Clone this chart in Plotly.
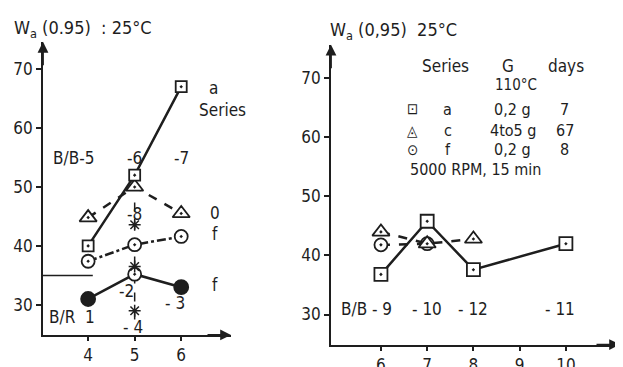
import plotly.graph_objects as go

# ---------------- data ----------------
# left panel (x = %)
left_x = [4, 5, 6]
left_a = [40, 52, 67]            # squares, solid
left_tri = [44.8, 50, 45.5]      # triangles, dashed
left_f_open = [37.4, 40.2, 41.6] # open circles, dash-dot
left_f_fill = [31, 35.2, 33]     # filled circles, solid
left_star_x = [5, 5, 5]
left_star = [43.6, 36.5, 29]     # crosses
left_xticks = [4, 5, 6]
left_yticks = [30, 40, 50, 60, 70]

# right panel
right_a_x = [6, 7, 8, 10]
right_a = [36.8, 45.8, 37.6, 42]
right_c_x = [6, 7, 8]
right_c = [44, 42, 42.8]
right_f_x = [6, 7]
right_f = [41.8, 42]
right_xticks = [6, 7, 8, 9, 10]
right_yticks = [30, 40, 50, 60, 70]

INK = "#1e1e1e"
FONT = "DejaVu Sans Condensed, DejaVu Sans, sans-serif"
W, H = 623, 367

fig = go.Figure()

def mk(symbol, fill, size=11, lw=1.8):
    return dict(symbol=symbol, size=size, color=fill, opacity=1, line=dict(color=INK, width=lw))

# ---- left traces ----
fig.add_trace(go.Scatter(x=left_x, y=left_tri, mode="lines+markers", xaxis="x", yaxis="y",
                         line=dict(color=INK, width=2.5, dash="dash"),
                         marker=mk("triangle-up-dot", "white", 15)))
fig.add_trace(go.Scatter(x=left_x, y=left_a, mode="lines+markers", xaxis="x", yaxis="y",
                         line=dict(color=INK, width=2.5),
                         marker=mk("square-dot", "white", 11)))
fig.add_trace(go.Scatter(x=left_x, y=left_f_open, mode="lines+markers", xaxis="x", yaxis="y",
                         line=dict(color=INK, width=2.5, dash="dashdot"),
                         marker=mk("circle-dot", "white", 13)))
fig.add_trace(go.Scatter(x=left_x, y=left_f_fill, mode="lines+markers", xaxis="x", yaxis="y",
                         line=dict(color=INK, width=2.5),
                         marker=dict(symbol=["circle", "circle-dot", "circle"], size=[14, 13, 14],
                                     opacity=1, color=[INK, "white", INK],
                                     line=dict(color=INK, width=1.8))))
fig.add_trace(go.Scatter(x=left_star_x, y=left_star, mode="markers", xaxis="x", yaxis="y",
                         marker=dict(symbol="asterisk-open", size=10, color=INK,
                                     line=dict(color=INK, width=1.5))))

# ---- right traces ----
fig.add_trace(go.Scatter(x=right_f_x, y=right_f, mode="lines+markers", xaxis="x2", yaxis="y2",
                         line=dict(color=INK, width=2.5, dash="dash"),
                         marker=mk("circle-dot", "white", 13)))
fig.add_trace(go.Scatter(x=right_c_x, y=right_c, mode="lines+markers", xaxis="x2", yaxis="y2",
                         line=dict(color=INK, width=2.5, dash="dash"),
                         marker=mk("triangle-up-dot", "white", 15)))
fig.add_trace(go.Scatter(x=right_a_x, y=right_a, mode="lines+markers", xaxis="x2", yaxis="y2",
                         line=dict(color=INK, width=2.5),
                         marker=mk("square-dot", "white", 13)))

axis_common = dict(showline=True, linecolor=INK, linewidth=1.8, showgrid=False, zeroline=False,
                   ticks="outside", ticklen=5, tickcolor=INK, tickwidth=1.5,
                   tickfont=dict(family=FONT, size=17, color=INK))

fig.update_layout(
    width=W, height=H, margin=dict(l=0, r=0, t=0, b=0),
    paper_bgcolor="white", plot_bgcolor="white", showlegend=False,
    xaxis=dict(axis_common, domain=[35 / W, 223 / W], range=[3.03, 7.07], anchor="y",
               tickvals=left_xticks, ticklen=4),
    yaxis=dict(axis_common, domain=[(H - 338) / H, (H - 35) / H], range=[24.9, 74.6], anchor="x",
               tickvals=left_yticks),
    xaxis2=dict(axis_common, domain=[323 / W, 612 / W], range=[4.92, 11.17], anchor="y2",
                tickvals=right_xticks, ticklen=4),
    yaxis2=dict(axis_common, domain=[(H - 348) / H, (H - 38) / H], range=[24.9, 75.7], anchor="x2",
                tickvals=right_yticks),
)

# reference lines
fig.add_shape(type="line", xref="x", yref="y", x0=5, x1=5, y0=27.5, y1=48.5,
              line=dict(color=INK, width=1.5, dash="dash"), layer="below")
fig.add_shape(type="line", xref="x", yref="y", x0=3.03, x1=4.1, y0=35, y1=35,
              line=dict(color=INK, width=1.5))

ann = []
def t(x, y, s, xr="x", yr="y", size=17, anchor="center"):
    ann.append(dict(x=x, y=y, xref=xr, yref=yr, text=s, showarrow=False, xanchor=anchor,
                    yanchor="middle", font=dict(family=FONT, size=size, color=INK)))

# axis arrows
for xr, yr, xe, ye, ax, ay in [("x", "y", 3.03, 74.6, 0, 25), ("x", "y", 7.07, 24.9, -25, 0),
                               ("x2", "y2", 4.92, 75.7, 0, 25), ("x2", "y2", 11.17, 24.9, -25, 0)]:
    ann.append(dict(x=xe, y=ye, xref=xr, yref=yr, ax=ax, ay=ay, showarrow=True,
                    arrowhead=2, arrowsize=1.2, arrowwidth=1.8, arrowcolor=INK, text=""))

# titles
ann.append(dict(x=4 / W, y=1 - 22 / H, xref="paper", yref="paper", xanchor="left", yanchor="middle",
                showarrow=False, text="W<sub>a</sub> (0.95)  : 25°C",
                font=dict(family=FONT, size=18, color=INK)))
ann.append(dict(x=320 / W, y=1 - 24 / H, xref="paper", yref="paper", xanchor="left", yanchor="middle",
                showarrow=False, text="W<sub>a</sub> (0,95)  25°C",
                font=dict(family=FONT, size=18, color=INK)))

# left labels
t(2.6, 65, "%")
t(3.68, 54.9, "B/B-5")
t(5, 54.9, "-6")
t(6, 54.9, "-7")
t(6.69, 66.7, "a")
t(6.88, 63.1, "Series")
t(6.73, 45.6, "0")
t(6.73, 42.1, "f")
t(6.73, 33.3, "f")
t(5, 45.4, "-8")
t(4.82, 32.3, "-2")
t(5.87, 30.3, "- 3")
t(4.97, 26.2, "- 4")
t(3.66, 27.9, "B/R  1")
t(6.47, 22.4, "%")

# right labels
t(5.68, 31, "B/B - 9", "x2", "y2")
t(7, 31, "- 10", "x2", "y2")
t(8, 31, "- 12", "x2", "y2")
t(9.87, 31, "- 11", "x2", "y2")
t(10.45, 22.4, "%", "x2", "y2")
t(7.4, 72.1, "Series", "x2", "y2")
t(8.74, 72.1, "G", "x2", "y2")
t(10.0, 72.1, "days", "x2", "y2")
t(8.92, 68.9, "110°C", "x2", "y2", 15)
rows = [("⊡", "a", "0,2 g", "7", 64.8), ("◬", "c", "4to5 g", "67", 61.1), ("⊙", "f", "0,2 g", "8", 57.9)]
for sym, ser, g, d, yy in rows:
    t(6.69, yy, sym, "x2", "y2", 15)
    t(7.45, yy, ser, "x2", "y2", 16)
    t(8.85, yy, g, "x2", "y2", 16)
    t(9.97, yy, d, "x2", "y2", 16)
t(8.05, 54.6, "5000 RPM, 15 min", "x2", "y2", 16)

fig.update_layout(annotations=ann)
fig.write_html("out.html")
